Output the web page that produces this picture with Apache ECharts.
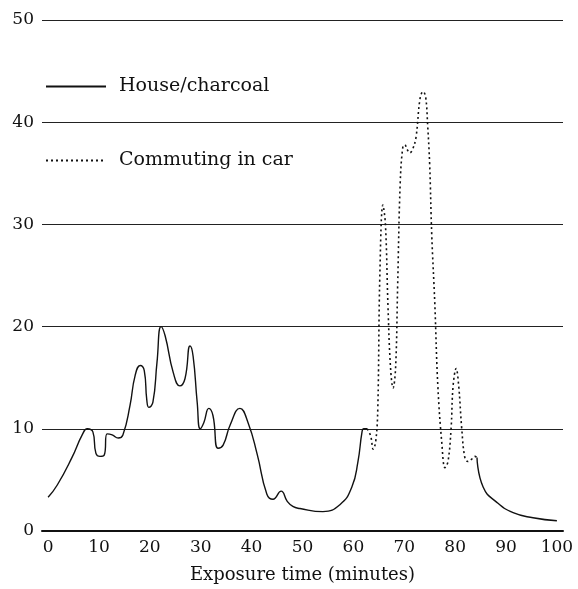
<!DOCTYPE html>
<html>
<head>
<meta charset="utf-8">
<script src="https://cdn.jsdelivr.net/npm/echarts@6/dist/echarts.min.js"></script>
<style>
  html, body { margin: 0; padding: 0; background: #fff; }
  #chart { width: 578px; height: 589px; }
</style>
</head>
<body>
<div id="chart"></div>
<script>
// x tick labels (minutes)
var xTicks = [0, 10, 20, 30, 40, 50, 60, 70, 80, 90, 100];

// House/charcoal, before the car trip  [minutes, level]
var houseBefore = [
  [0, 3.3], [1.8, 4.5], [4.7, 7.2], [6.7, 9.4], [7.7, 10], [8.8, 9.7],
  [9.4, 7.6], [10.2, 7.3], [11.0, 7.4], [11.6, 9.5], [12.6, 9.4], [13.8, 9.1],
  [14.7, 9.4], [16.1, 12.3], [17.1, 15.2], [18.1, 16.2], [18.9, 15.7],
  [19.4, 12.8], [19.8, 12.1], [20.6, 12.6], [21.4, 16.5], [22.2, 20],
  [23.0, 19.1], [24.6, 15.5], [25.9, 14.2], [26.9, 14.9], [27.9, 18.1],
  [28.5, 17.1], [29.3, 12.6], [29.9, 10], [30.6, 10.6], [31.6, 12],
  [32.4, 11.3], [33.4, 8.1], [34.4, 8.4], [35.8, 10.4], [37.7, 12],
  [39.3, 10.6], [41.1, 7.5], [43.0, 3.6], [44.2, 3.1], [45.8, 3.9],
  [47.0, 2.9], [48.1, 2.4], [49.5, 2.2], [54.0, 1.9], [57.4, 2.6],
  [59.7, 4.3], [60.9, 6.8], [61.7, 9.7], [62.0, 10], [62.7, 10]
];

// Commuting in car  [minutes, level]
var commuting = [
  [62.7, 10], [63.4, 9.3], [63.9, 8.0], [64.4, 8.8], [64.8, 12], [65.2, 25],
  [65.8, 31.9], [66.3, 30], [66.8, 22], [67.3, 16], [67.8, 14], [68.3, 16],
  [68.7, 24], [69.2, 34], [69.7, 37.5], [70.1, 37.8], [70.6, 37.3], [71.1, 37],
  [71.6, 37.3], [72.3, 38.5], [73.1, 42.3], [73.7, 43], [74.2, 42.5],
  [74.6, 39.7], [75.0, 35.8], [75.4, 29], [76.0, 22.3], [76.6, 14.2],
  [77.4, 8.5], [78.0, 6.2], [78.6, 6.8], [79.2, 10], [79.6, 14.2],
  [80.2, 15.9], [80.7, 14.2], [81.3, 10], [81.9, 7.2], [82.5, 6.8],
  [83.2, 7.0], [83.9, 7.3], [84.3, 7.2]
];

// House/charcoal, after the car trip
var houseAfter = [
  [84.3, 7.2], [85.5, 4.3], [88.2, 2.8], [91.4, 1.8], [95.3, 1.3], [100, 1.0]
];

var font = "DejaVu Serif";

var chart = echarts.init(document.getElementById("chart"));
chart.setOption({
  backgroundColor: "#fff",
  animation: false,
  grid: { left: 42, right: 15, top: 20, bottom: 52 },
  legend: {
    data: ["House/charcoal", "Commuting in car"],
    orient: "vertical",
    left: 40,
    top: 72,
    itemWidth: 60,
    itemHeight: 14,
    itemGap: 55,
    itemStyle: { opacity: 0 },
    textStyle: { fontFamily: font, fontSize: 19, color: "#111", padding: [0, 0, 0, 8] }
  },
  xAxis: {
    type: "value",
    min: -1.2,
    max: 101.2,
    name: "Exposure time (minutes)",
    nameLocation: "middle",
    nameGap: 35,
    nameTextStyle: { fontFamily: font, fontSize: 18, color: "#111" },
    axisLine: { show: true, lineStyle: { color: "#111", width: 2 } },
    axisTick: { show: false },
    splitLine: { show: false },
    axisLabel: {
      customValues: xTicks,
      margin: 8,
      fontFamily: font,
      fontSize: 17,
      color: "#111"
    }
  },
  yAxis: {
    type: "value",
    min: 0,
    max: 50,
    interval: 10,
    axisLine: { show: false },
    axisTick: { show: false },
    axisLabel: { margin: 8, fontFamily: font, fontSize: 17, color: "#111" },
    splitLine: { lineStyle: { color: "#222", width: 1.2 } }
  },
  series: [
    {
      name: "House/charcoal",
      type: "line",
      data: houseBefore,
      smooth: 0.5,
      symbol: "none",
      lineStyle: { color: "#111", width: 1.4 },
      itemStyle: { color: "#111" }
    },
    {
      name: "Commuting in car",
      type: "line",
      data: commuting,
      smooth: 0.4,
      symbol: "none",
      lineStyle: { color: "#111", width: 1.6, type: [2, 3] },
      itemStyle: { color: "#111" }
    },
    {
      name: "House/charcoal",
      type: "line",
      data: houseAfter,
      smooth: 0.5,
      symbol: "none",
      lineStyle: { color: "#111", width: 1.4 },
      itemStyle: { color: "#111" }
    }
  ]
});
</script>
</body>
</html>
